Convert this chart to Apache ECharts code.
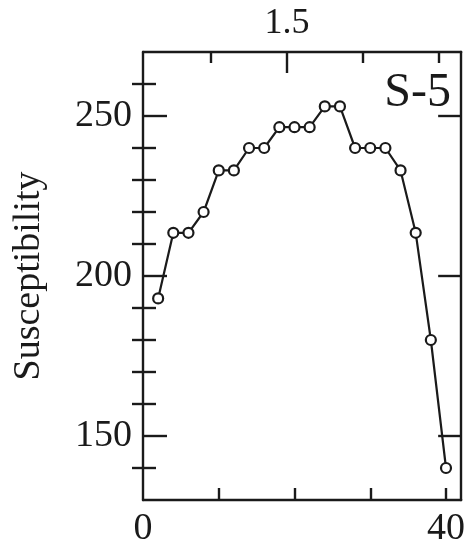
<!DOCTYPE html>
<html>
<head>
<meta charset="utf-8">
<style>html,body{margin:0;padding:0;background:#fff;}#c{width:468px;height:548px;}</style>
<script src="https://cdn.jsdelivr.net/npm/echarts@6/dist/echarts.min.js"></script>
</head>
<body>
<div id="c"></div>
<script>
// Data
const positions = [2, 4, 6, 8, 10, 12, 14, 16, 18, 20, 22, 24, 26, 28, 30, 32, 34, 36, 38, 40];
const susceptibility = [193, 213.5, 213.5, 220, 233, 233, 240, 240, 246.5, 246.5, 246.5, 253, 253, 240, 240, 240, 233, 213.5, 180, 140];
const yMajorTicks = [150, 200, 250];
const yMinorTicks = [140, 160, 170, 180, 190, 210, 220, 230, 240, 260];
const xBottomTicks = [10, 20, 30, 40];
const xBottomLabels = [0, 40];
const xTopMajorTick = [19];
const xTopMinorTicks = [9, 29, 39];
const topLabelText = '1.5';
const panelLabel = 'S-5';
const yName = 'Susceptibility';

const FONT = 'Liberation Serif';
const INK = '#1a1a1a';
const lineStyle = {color: INK, width: 2.4};

function xAxisBase(pos) {
  return {type: 'value', position: pos, min: 0, max: 42, splitLine: {show: false},
    axisLine: {show: true, onZero: false, lineStyle: lineStyle}};
}
function yAxisBase(pos) {
  return {type: 'value', position: pos, min: 130, max: 270, splitLine: {show: false},
    axisLine: {show: true, onZero: false, lineStyle: lineStyle}};
}

const option = {
  animation: false,
  backgroundColor: '#fff',
  title: {text: panelLabel, right: 12, top: 64,
    textStyle: {fontFamily: FONT, fontSize: 48, fontWeight: 'normal', color: INK}},
  grid: {left: 143, right: 4, top: 52, bottom: 46},
  xAxis: [
    Object.assign(xAxisBase('bottom'), {
      axisTick: {show: true, inside: true, length: 12, lineStyle: lineStyle, customValues: xBottomTicks},
      axisLabel: {show: true, customValues: xBottomLabels, margin: 10,
        fontFamily: FONT, fontSize: 38, color: INK}
    }),
    Object.assign(xAxisBase('top'), {
      axisTick: {show: true, inside: true, length: 21, lineStyle: lineStyle, customValues: xTopMajorTick},
      axisLabel: {show: true, customValues: xTopMajorTick, margin: 10,
        formatter: function () { return topLabelText; },
        fontFamily: FONT, fontSize: 36, color: INK}
    }),
    Object.assign(xAxisBase('top'), {
      axisLine: {show: false},
      axisTick: {show: true, inside: true, length: 11, lineStyle: lineStyle, customValues: xTopMinorTicks},
      axisLabel: {show: false}
    })
  ],
  yAxis: [
    Object.assign(yAxisBase('left'), {
      name: yName, nameLocation: 'middle', nameGap: 95, nameRotate: 90,
      nameTextStyle: {fontFamily: FONT, fontSize: 38, color: INK},
      axisTick: {show: true, inside: true, length: 24, lineStyle: lineStyle, customValues: yMajorTicks},
      axisLabel: {show: true, customValues: yMajorTicks, margin: 11,
        fontFamily: FONT, fontSize: 38, color: INK}
    }),
    Object.assign(yAxisBase('left'), {
      axisLine: {show: false},
      axisTick: {show: true, inside: true, length: 13, lineStyle: lineStyle, customValues: yMinorTicks},
      axisLabel: {show: false}
    }),
    Object.assign(yAxisBase('right'), {
      axisTick: {show: true, inside: true, length: 23, lineStyle: lineStyle, customValues: yMajorTicks},
      axisLabel: {show: false}
    }),
    Object.assign(yAxisBase('right'), {
      axisLine: {show: false},
      axisTick: {show: true, inside: true, length: 11, lineStyle: lineStyle, customValues: yMinorTicks},
      axisLabel: {show: false}
    })
  ],
  series: [{
    type: 'line',
    xAxisIndex: 0, yAxisIndex: 0,
    data: positions.map((x, i) => [x, susceptibility[i]]),
    lineStyle: {color: INK, width: 2.2},
    symbol: 'circle', symbolSize: 10,
    itemStyle: {color: '#fff', borderColor: INK, borderWidth: 2.2},
    z: 5
  }]
};

const chart = echarts.init(document.getElementById('c'), null, {renderer: 'canvas'});
chart.setOption(option);
</script>
</body>
</html>
